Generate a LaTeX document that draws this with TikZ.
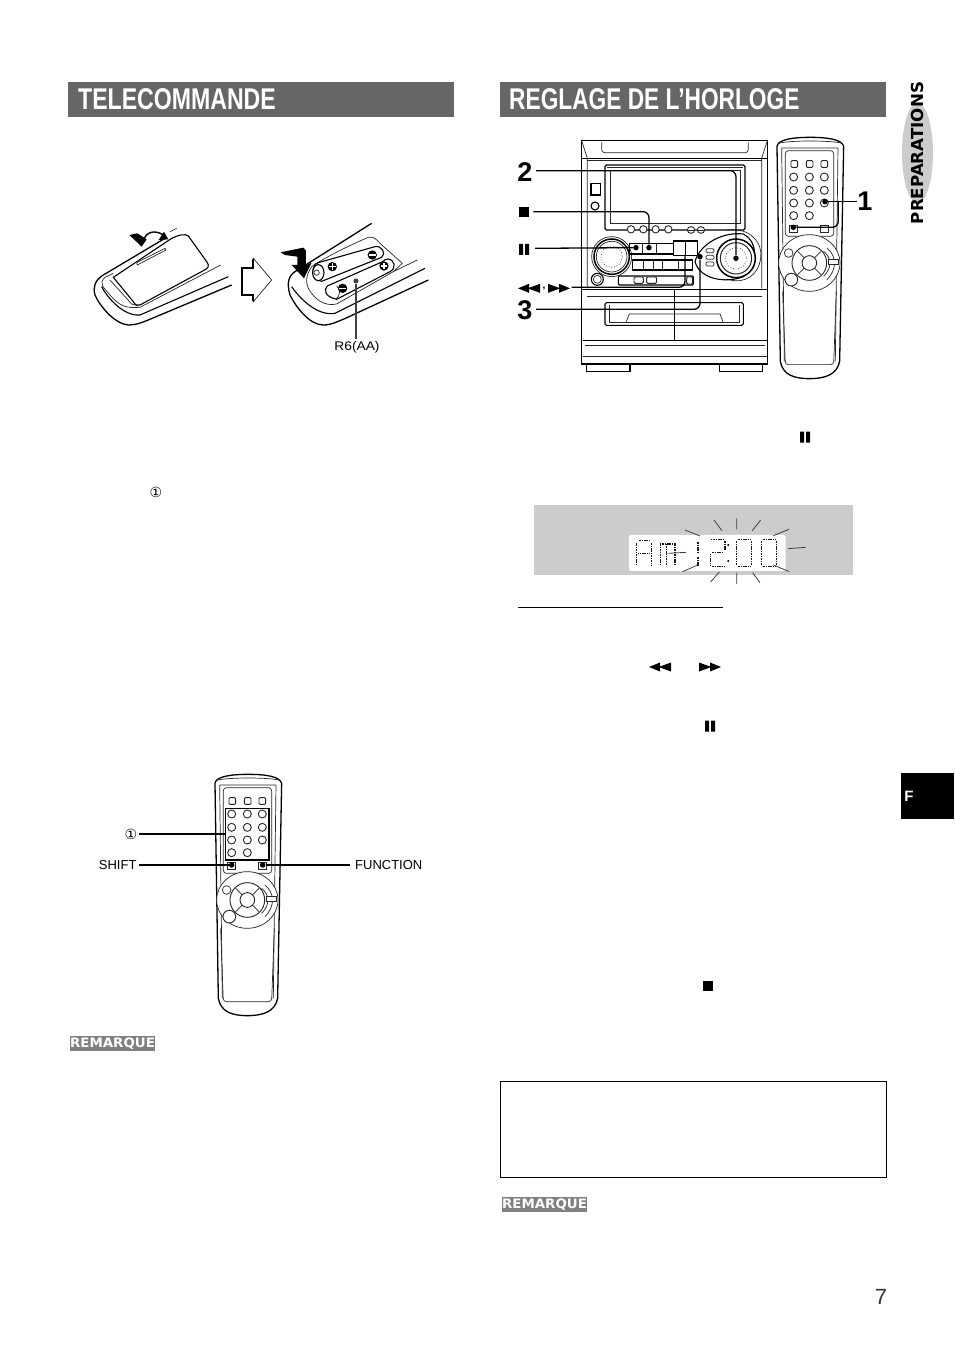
\documentclass[tikz,border=0pt]{standalone}
\usepackage{fontspec}
\setmainfont{Liberation Sans}
\newfontfamily\symfont{DejaVu Sans}
\usetikzlibrary{calc}
\tikzset{
 thinl/.style={draw=black!85,line width=0.7pt},
 medl/.style={draw=black,line width=1.1pt},
 lead/.style={draw=black,line width=1.3pt,rounded corners=6pt},
 leaddot/.style={circle,fill=black,inner sep=0pt,minimum size=5.5pt},
 lbl/.style={font=\fontsize{13}{14}\selectfont,inner sep=0pt},
 bignum/.style={font=\bfseries\fontsize{27}{28}\selectfont,inner sep=0pt},
 headbar/.style={fill=black!60,draw=none},
 headtxt/.style={text=white,font=\bfseries\fontsize{30}{32}\selectfont,inner sep=0pt,anchor=west},
 rem/.style={fill=black!50,text=white,inner sep=0pt,minimum width=85pt,minimum height=15pt,font=\symfont\bfseries\fontsize{13}{14}\selectfont},
 ray/.style={draw=black!75,line width=0.8pt},
 seg/.style={draw=black!90,line width=1.5pt,dash pattern=on 1.1pt off 0.6pt},
}
\newcommand{\pauseicon}[1]{\fill[black] ($(#1)+(-5,-5.5)$) rectangle ($(#1)+(-1,5.5)$) ($(#1)+(1,-5.5)$) rectangle ($(#1)+(5,5.5)$);}
\newcommand{\leftplay}[1]{\fill[black] ($(#1)+(-11,0)$)--($(#1)+(0,-4.5)$)--($(#1)+(0,-0.5)$)--($(#1)+(11,-4.5)$)--($(#1)+(11,4.5)$)--($(#1)+(0,0.5)$)--($(#1)+(0,4.5)$)--cycle;}
\newcommand{\rightplay}[1]{\fill[black] ($(#1)+(11,0)$)--($(#1)+(0,-4.5)$)--($(#1)+(0,-0.5)$)--($(#1)+(-11,-4.5)$)--($(#1)+(-11,4.5)$)--($(#1)+(0,0.5)$)--($(#1)+(0,4.5)$)--cycle;}
\newcommand{\remotectl}[2]{%
\begin{scope}[shift={(#1,#2)},x=0.3333pt,y=-0.3333pt]
 \draw[medl,fill=white,line width=1.3pt] (375,55) .. controls (378,35) and (420,28) .. (475,28) .. controls (530,28) and (570,35) .. (575,55) -- (563,700) .. controls (555,740) and (520,752) .. (472,752) .. controls (425,752) and (392,740) .. (385,700) -- cycle;
 \draw[thinl] (383,45) .. controls (420,37) and (530,37) .. (568,45);
 \draw[thinl] (389,60) -- (558,60) (389,60) -- (397,700) (558,60) -- (550,700);
 \draw[thinl,rounded corners=3pt] (400,68) rectangle (545,325);
 \foreach \x in {427,473,517} \draw[thinl,rounded corners=1pt,line width=0.9pt] (\x-10,98) rectangle (\x+10,118);
 \foreach \x/\y in {425/147,472/147,517/147,425/187,472/187,517/187,425/225,472/225,517/225,425/263,472/263}
   \draw[thinl,line width=0.9pt] (\x,\y) circle (12);
 \draw[thinl] (412,292) rectangle (437,314) (505,292) rectangle (530,314);
 \draw[thinl,fill=white] (472,405) ellipse (92 and 85);
 \draw[thinl,line width=0.9pt] (472,405) circle (52);
 \draw[thinl,line width=0.9pt] (472,405) circle (22);
 \draw[thinl] (437,370) -- (456,389) (507,370) -- (488,389) (437,440) -- (456,421) (507,440) -- (488,421);
 \draw[thinl,fill=white] (410,375) circle (13);
 \draw[thinl,fill=white,line width=0.9pt] (418,455) circle (19);
 \draw[thinl] (525,360) .. controls (555,385) and (555,425) .. (525,455);
 \draw[thinl] (515,370) .. controls (540,390) and (540,420) .. (515,445);
 \draw[thinl,fill=white] (528,395) rectangle (558,410);
 \draw[thinl,rounded corners=3pt] (392,490) -- (400,710) -- (545,710) -- (553,490);
\end{scope}}
\begin{document}
\begin{tikzpicture}[x=1pt,y=-1pt]
\useasboundingbox (0,0) rectangle (954,1351);
\fill[white] (0,0) rectangle (954,1351);
% headings
\fill[headbar] (68,82) rectangle (454,117);
\fill[headbar] (500,82) rectangle (886,117);
\node[headtxt] (h1) at (78,99.5) {\scalebox{0.77}[1]{TELECOMMANDE}};
\node[headtxt] (h2) at (509,99.5) {\scalebox{0.757}[1]{REGLAGE DE L’HORLOGE}};
% side tab
\fill[black!20] (917.5,153) ellipse (15.5 and 50);
\node[rotate=90,inner sep=0pt,font=\symfont\bfseries\fontsize{16.5}{18}\selectfont] (prep) at (917,153) {\scalebox{1.01}[1]{PREPARATIONS}};
\fill[black] (901,773) rectangle (954,819);
\node[text=white,font=\bfseries\fontsize{15}{16}\selectfont,inner sep=0pt] (ftxt) at (909,796) {F};
\node[font=\fontsize{22}{24}\selectfont,text=black!80,inner sep=0pt] (pageno) at (881,1297) {7};
% battery figure
\begin{scope}[shift={(60,200)},x=0.3333pt,y=-0.3333pt]
 \draw[medl,line width=1.3pt] (320,112) -- (130,225) .. controls (105,240) and (98,262) .. (105,285) .. controls (120,320) and (165,372) .. (205,375) .. controls (225,375) and (240,370) .. (260,362) -- (515,255);
 \draw[thinl] (482,195) -- (240,322) .. controls (200,325) and (180,320) .. (150,285) .. controls (130,262) and (115,250) .. (135,232) -- (160,220);
 \draw[medl] (125,260) .. controls (140,290) and (190,350) .. (240,345) -- (505,230);
 \draw[medl,fill=white] (160,232) -- (335,115) .. controls (355,105) and (375,100) .. (385,108) -- (440,185) .. controls (450,198) and (445,205) .. (430,212) -- (240,315) .. controls (232,318) and (225,315) .. (220,305) -- cycle;
 \draw[thinl] (150,240) -- (215,312) -- (235,318);
 \draw[thinl] (230,188) -- (315,145) -- (318,150) -- (232,195) -- cycle;
 \fill[black] (208,105) -- (232,100) -- (260,118) -- (245,140) -- cycle;
 \draw[medl,line width=1.4pt] (250,125) .. controls (255,95) and (285,88) .. (310,105);
 \fill[black] (325,118) -- (296,120) -- (312,95) -- cycle;
 \draw[thinl] (330,95) -- (350,85);
 % arrow between
 \draw[thinl,fill=white] (545,205) -- (580,205) -- (580,175) -- (635,240) -- (580,305) -- (580,285) -- (545,285) -- cycle;
 \draw[black,line width=2pt] (578,177) -- (578,205) -- (547,205) -- (547,285) -- (578,285) -- (578,303);
 % right remote
 \draw[medl,line width=1.3pt] (935,70) -- (705,215) .. controls (685,228) and (680,250) .. (690,285) .. controls (710,325) and (750,375) .. (790,375) .. controls (815,375) and (830,365) .. (850,358) -- (1105,240);
 \draw[medl] (695,260) .. controls (715,290) and (770,350) .. (825,340) -- (1095,205);
 \draw[thinl] (1072,180) -- (1000,215) -- (830,312) .. controls (795,320) and (765,300) .. (745,265) .. controls (735,240) and (740,225) .. (755,200) .. controls (790,175) and (860,140) .. (925,112) .. controls (940,108) and (950,118) .. (960,130) -- (1027,190) -- (1000,215);
 % batteries
 \draw[medl,fill=white] (968,185) -- (802,258) .. controls (790,270) and (795,290) .. (830,298) -- (990,215) .. controls (1010,205) and (1005,180) .. (985,177) .. controls (978,177) and (972,180) .. (968,185) -- cycle;
 \draw[thinl] (830,258) .. controls (842,270) and (842,285) .. (828,298);
 \draw[medl,fill=white] (945,140) -- (775,188) .. controls (752,195) and (752,240) .. (785,244) -- (965,172) .. controls (980,162) and (965,135) .. (945,140) -- cycle;
 \draw[medl,fill=white] (775,218) ellipse (17 and 24);
 \draw[thinl,fill=white] (770,218) circle (8);
 \foreach \p in {{(937,165)},{(848,265)},{(817,200)},{(972,198)}}{
   \path \p coordinate (bc);
   \fill[black] (bc) circle (14);
   \fill[white] ($(bc)+(-10,-2)$) rectangle ($(bc)+(10,2)$);
 }
 \foreach \p in {{(817,200)},{(972,198)}}{
   \path \p coordinate (bc);
   \fill[white] ($(bc)+(-2,-10)$) rectangle ($(bc)+(2,10)$);
 }
 \fill[black] (662,157) -- (730,143) -- (738,152) -- (738,195) -- (755,188) -- (732,235) -- (695,195) -- (712,195) -- (712,170) -- (675,165) -- cycle;
 \coordinate (battdot) at (888,243);
\end{scope}
\node[leaddot,minimum size=5pt,fill=black!75] (bd) at (battdot) {};
\node[lbl,font=\fontsize{12.5}{14}\selectfont] (r6) at (357,347) {\scalebox{1.1}[1]{R6(AA)}};
\draw[draw=black!75,line width=1.1pt] (bd) -- ($(r6.north -| bd)+(0,-2)$);
% stereo
\begin{scope}[shift={(510,130)},x=0.3333pt,y=-0.3333pt]
 \draw[medl,line width=1.5pt] (215,32) rectangle (772,702);
 \draw[thinl] (215,32) -- (232,85) (772,32) -- (755,85) (232,85) -- (232,475) (755,85) -- (755,475);
 \draw[thinl,rounded corners=3pt] (275,37) -- (275,68) -- (715,68) -- (715,37);
 \draw[medl] (215,85) -- (772,85);
 \draw[thinl] (232,92) -- (755,92);
 \draw[medl,rounded corners=1.5pt] (285,105) rectangle (705,300);
 \draw[thinl] (300,120) -- (300,280) -- (690,280) -- (690,120) -- cycle;
 \draw[thinl] (290,112) -- (700,112);
 \draw[medl] (243,160) rectangle (272,195);
 \draw[medl] (255,228) circle (12);
 \foreach \x in {363,400,437,475} \draw[thinl,fill=white,line width=0.9pt] (\x,298) circle (11);
 \foreach \x in {543,573} {\draw[thinl,fill=white,line width=0.9pt] (\x,300) ellipse (11 and 10); \draw[thinl] (\x-11,300) -- (\x+11,300);}
 \draw[thinl] (650,300) .. controls (720,290) and (760,340) .. (752,385) .. controls (745,440) and (700,460) .. (660,450);
 \draw[medl,fill=white] (555,395) .. controls (570,340) and (640,305) .. (700,312) .. controls (740,330) and (750,400) .. (700,440) .. controls (650,460) and (570,450) .. (555,395) -- cycle;
 \draw[thinl,fill=white] (305,380) circle (60);
 \draw[medl,fill=white,line width=1.5pt] (305,380) circle (53);
 \draw[thinl] (305,380) circle (46);
 \draw[thinl,dotted] (305,380) circle (32);
 \draw[medl,fill=white,line width=1.5pt] (678,385) circle (58);
 \draw[thinl,line width=1pt] (678,385) circle (47);
 \draw[thinl,dotted] (678,385) circle (32);
 \foreach \y in {362,382,402} \draw[thinl,rounded corners=1.2pt,fill=white] (588,\y-6) rectangle (612,\y+6);
 \draw[medl] (358,340) rectangle (490,372);
 \draw[thinl,line width=0.9pt] (397,340) -- (397,372) (440,340) -- (440,372);
 \draw[medl] (368,390) rectangle (548,420);
 \draw[thinl,line width=0.9pt] (400,390) -- (400,420) (430,390) -- (430,420) (458,390) -- (458,420) (505,390) -- (505,420);
 \draw[medl,rounded corners=1pt] (325,438) rectangle (550,465);
 \draw[thinl,rounded corners=1.2pt,line width=0.9pt] (372,441) rectangle (400,460) (410,441) rectangle (440,460) (530,441) rectangle (548,462);
 \draw[medl] (262,448) circle (18);
 \draw[thinl] (262,448) circle (12);
 \draw[medl] (215,478) -- (772,478);
 \draw[thinl] (232,500) -- (755,500);
 \draw[medl,rounded corners=1.5pt] (285,518) rectangle (700,586);
 \draw[thinl] (298,525) -- (298,578) -- (688,578) -- (688,525);
 \draw[thinl] (348,578) -- (358,552) -- (630,552) -- (640,578);
 \draw[medl] (493,478) -- (493,632);
 \draw[medl] (218,632) -- (770,632);
 \draw[thinl] (218,680) -- (770,680);
 \draw[thinl] (225,645) -- (765,645);
 \draw[medl,fill=white] (230,702) rectangle (360,724);
 \draw[medl,fill=white] (628,702) rectangle (757,724);
 \coordinate (sd2) at (678,385);
 \coordinate (sdstop) at (417,353);
 \coordinate (sdpause) at (378,353);
 \coordinate (sdff) at (525,375);
 \coordinate (sd3) at (570,380);
 \coordinate (l2) at (78,122);
 \coordinate (lstop) at (70,245);
 \coordinate (lpause) at (75,355);
 \coordinate (lff) at (185,472);
 \coordinate (l3) at (78,538);
 \coordinate (l1) at (1040,215);
 \coordinate (t2) at (45,127);
 \coordinate (t3) at (45,541);
 \coordinate (t1) at (1065,215);
 \coordinate (istop) at (42,245);
 \coordinate (ipause) at (42,358);
 \coordinate (irw) at (57,475);
 \coordinate (icomma) at (102,477);
 \coordinate (iff) at (147,475);
 \coordinate (rb1) at (945,215);
 \coordinate (rb2) at (850,292);
 \coordinate (rbm) at (985,215);
 \coordinate (ffa) at (490,333);
 \coordinate (ffb) at (562,377);
\end{scope}
\remotectl{652}{128}
\node[bignum] (n2) at (t2) {2};
\node[bignum] (n3) at (t3) {3};
\node[bignum] (n1) at (t1) {1};
\node[leaddot] (d2) at (sd2) {};
\node[leaddot] (dstop) at (sdstop) {};
\node[leaddot] (dpause) at (sdpause) {};
\node[leaddot] (d3) at (sd3) {};
\node[leaddot] (d1a) at (rb1) {};
\node[leaddot] (d1b) at (rb2) {};
\draw[lead] (l2) -| (d2);
\draw[lead] (lstop) -| (dstop);
\draw[lead] (lpause) -- (dpause);
\draw[lead] (lff) -| (sdff);
\draw[lead] (l3) -| (d3);
\draw[lead] (d1a) -- (l1);
\draw[lead] (rbm) |- (d1b);
\draw[black,line width=1.6pt] (ffa) rectangle (ffb);
\draw[black,line width=0.9pt] (sdff|-ffa) -- (sdff);
\fill[black] ($(istop)+(-5.5,-5)$) rectangle ($(istop)+(5,5)$);
\pauseicon{ipause}
\leftplay{irw}
\rightplay{iff}
\node[inner sep=0pt,font=\bfseries\fontsize{10}{10}\selectfont] (cm) at (icomma) {,};
\node[inner sep=0pt,font=\symfont\fontsize{14}{15}\selectfont] (c1) at (156,492) {①};
\pauseicon{805,437}
\leftplay{660,667}
\rightplay{710,667}
\pauseicon{710,726}
\fill[black] (703,981) rectangle (713,991);
% display
\begin{scope}[shift={(510,420)},x=0.3333pt,y=-0.3333pt]
 \fill[black!20] (72,255) rectangle (1028,465);
 \fill[white,rounded corners=1.5pt] (357,345) rectangle (827,453);
 \draw[seg] (380,435) -- (380,368) (386,362) -- (420,362) (425,368) -- (425,435) (385,400) -- (420,400);
 \draw[seg] (452,435) -- (452,368) (495,435) -- (495,368) (470,372) -- (470,435) (455,372) -- (490,372);
 \draw[seg,line width=1.9pt] (565,365) -- (565,397) (565,410) -- (565,438);
 \draw[seg] (603,358) -- (640,358) (645,362) -- (645,392) (605,398) -- (640,398) (602,403) -- (602,435) (605,440) -- (645,440);
 \fill[black] (655,375) circle (3.5) (655,423) circle (3.5);
 \foreach \x in {680,755}{
   \draw[seg] (\x+3,358) -- (\x+40,358) (\x+45,362) -- (\x+45,435) (\x+3,440) -- (\x+40,440) (\x,362) -- (\x,435);
 }
 \draw[ray] (525,330) -- (570,348) (612,300) -- (636,332) (680,295) -- (680,328) (752,300) -- (727,332) (837,328) -- (790,347) (835,386) -- (887,382) (838,455) -- (790,435) (475,400) -- (528,397) (518,455) -- (563,435) (628,456) -- (602,486) (680,458) -- (680,492) (728,458) -- (750,488);
 \coordinate (ula) at (25,562);
 \coordinate (ulb) at (638,562);
\end{scope}
\draw[black,line width=0.9pt] (ula) -- (ulb);
% bottom remote
\remotectl{90}{765}
\begin{scope}[shift={(90,765)},x=0.3333pt,y=-0.3333pt]
 \coordinate (bbox1) at (407,130);
 \coordinate (bbox2) at (537,285);
 \coordinate (sh) at (425,300);
 \coordinate (fn) at (518,300);
 \coordinate (lsh) at (140,300);
 \coordinate (lfn) at (780,300);
\end{scope}
\draw[black,line width=1.5pt] (bbox1) rectangle (bbox2);
\node[leaddot] (dsh) at (sh) {};
\node[leaddot] (dfn) at (fn) {};
\node[lbl,anchor=east] (tsh) at (lsh) {SHIFT};
\node[lbl,anchor=west] (tfn) at ($(lfn)+(5,0)$) {FUNCTION};
\node[inner sep=0pt,font=\symfont\fontsize{14}{15}\selectfont] (t1c) at (131,834) {①};
\draw[black,line width=1.4pt] (t1c.east) ++(2,0) -- (t1c.east -| bbox1);
\draw[black,line width=1.4pt] (tsh.east) ++(2,0) -- (dsh);
\draw[black,line width=1.4pt] (dfn) -- (lfn);
% remarks
\node[rem] (rm1) at (112.5,1043.5) {\scalebox{1.03}[1]{REMARQUE}};
\node[rem] (rm2) at (544.5,1204.5) {\scalebox{1.03}[1]{REMARQUE}};
\draw[draw=black,line width=0.9pt] (500.5,1081.5) rectangle (886.5,1177.5);
\end{tikzpicture}
\end{document}
